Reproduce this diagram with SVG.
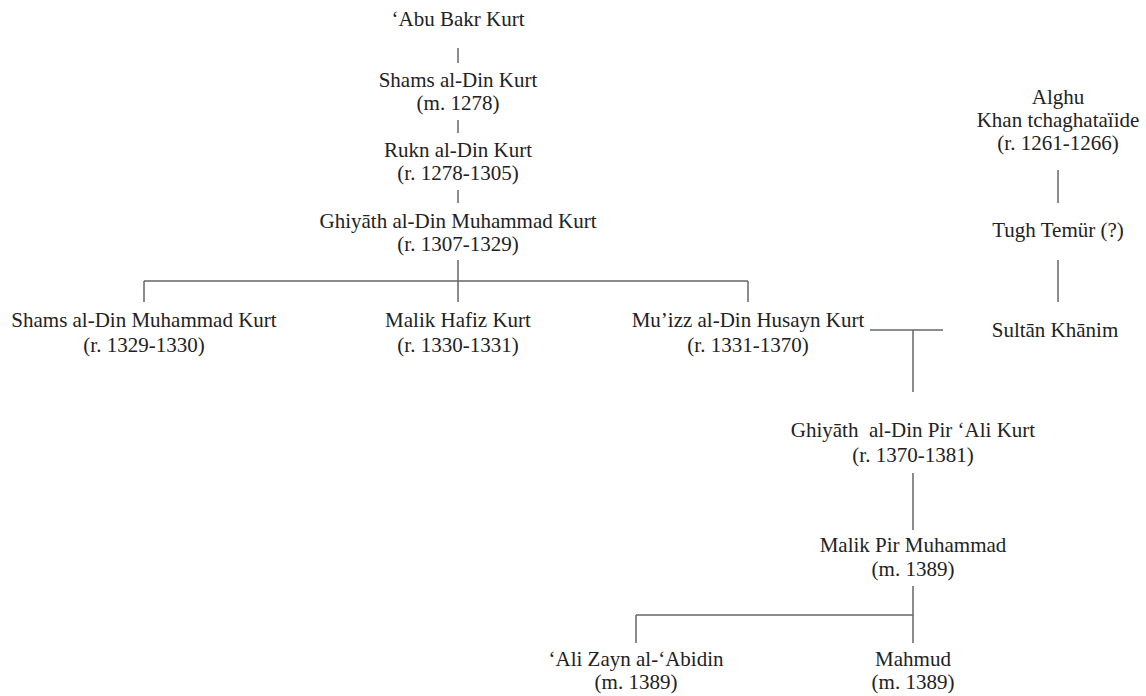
<svg xmlns="http://www.w3.org/2000/svg" width="1146" height="696" viewBox="0 0 1146 696">
<style>
text{font-family:"Liberation Serif","Times New Roman",serif;font-size:21px;fill:#222;text-anchor:middle}
.c line{stroke:#666;stroke-width:1.5;fill:none}
</style>
<rect width="1146" height="696" fill="#fff"/>
<g class="c" id="connectors">
<line x1="458" y1="48" x2="458" y2="63"/>
<line x1="458" y1="120" x2="458" y2="133"/>
<line x1="458" y1="190" x2="458" y2="203"/>
<line x1="458" y1="260" x2="458" y2="302"/>
<line x1="144" y1="281" x2="748" y2="281"/>
<line x1="144" y1="281" x2="144" y2="302"/>
<line x1="748" y1="281" x2="748" y2="302"/>
<line x1="1058" y1="170" x2="1058" y2="203"/>
<line x1="1058" y1="260" x2="1058" y2="302"/>
<line x1="870" y1="330" x2="943" y2="330"/>
<line x1="913" y1="330" x2="913" y2="392"/>
<line x1="913" y1="473" x2="913" y2="530"/>
<line x1="913" y1="586" x2="913" y2="643"/>
<line x1="636" y1="615" x2="913" y2="615"/>
<line x1="636" y1="615" x2="636" y2="643"/>
</g>
<g id="abu"><text x="458" y="26">‘Abu Bakr Kurt</text></g>
<g id="shams"><text x="458" y="87">Shams al-Din Kurt</text><text x="458" y="110">(m. 1278)</text></g>
<g id="rukn"><text x="458" y="157">Rukn al-Din Kurt</text><text x="458" y="180">(r. 1278-1305)</text></g>
<g id="ghiyath"><text x="458" y="228">Ghiyāth al-Din Muhammad Kurt</text><text x="458" y="251">(r. 1307-1329)</text></g>
<g id="shamsm"><text x="144" y="327">Shams al-Din Muhammad Kurt</text><text x="144" y="352">(r. 1329-1330)</text></g>
<g id="malikh"><text x="458" y="327">Malik Hafiz Kurt</text><text x="458" y="352">(r. 1330-1331)</text></g>
<g id="muizz"><text x="748" y="327">Mu’izz al-Din Husayn Kurt</text><text x="748" y="352">(r. 1331-1370)</text></g>
<g id="alghu"><text x="1058" y="104">Alghu</text><text x="1058" y="127">Khan tchaghataïide</text><text x="1058" y="150">(r. 1261-1266)</text></g>
<g id="tugh"><text x="1058" y="237">Tugh Temür (?)</text></g>
<g id="sultan"><text x="1055" y="337">Sultān Khānim</text></g>
<g id="pirali"><text x="913" y="437" style="white-space:pre">Ghiyāth  al-Din Pir ‘Ali Kurt</text><text x="913" y="462">(r. 1370-1381)</text></g>
<g id="malikpir"><text x="913" y="552">Malik Pir Muhammad</text><text x="913" y="576">(m. 1389)</text></g>
<g id="ali"><text x="636" y="666">‘Ali Zayn al-‘Abidin</text><text x="636" y="689">(m. 1389)</text></g>
<g id="mahmud"><text x="913" y="666">Mahmud</text><text x="913" y="689">(m. 1389)</text></g>
</svg>
